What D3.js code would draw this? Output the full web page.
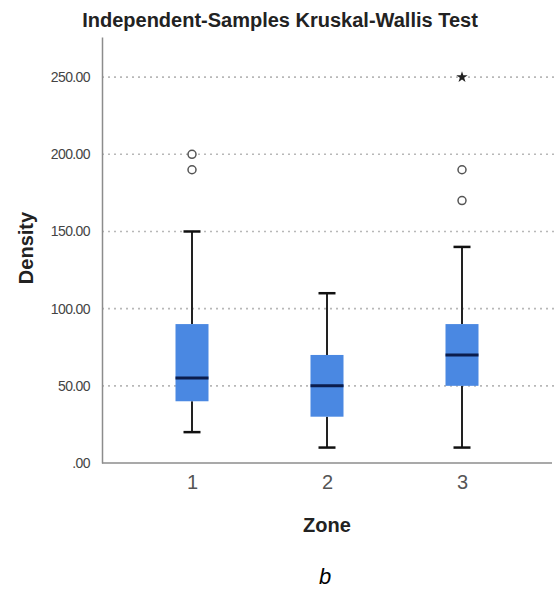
<!DOCTYPE html>
<meta charset="utf-8">
<script src="https://d3js.org/d3.v7.min.js"></script>
<style>
body { margin:0; background:#fff; }
text { font-family:"Liberation Sans", Arial, sans-serif; }
</style>
<body>
</body>
<script>

// data
var zones = ["1", "2", "3"];
var q1 = [40, 30, 50];
var median = [55, 50, 70];
var q3 = [90, 70, 90];
var whiskLow = [20, 10, 10];
var whiskHigh = [150, 110, 140];
var outliers = [[190, 200], [], [170, 190]];
var extremes = [[], [], [250]];
var yTicks = [0, 50, 100, 150, 200, 250];

var margin = {top: 37, right: 2, bottom: 127, left: 102};
var W = 554, H = 590;
var width = W - margin.left - margin.right,
    height = H - margin.top - margin.bottom;

var svg = d3.select('body').append('svg')
  .attr('width', W)
  .attr('height', H);

var g = svg.append('g')
  .attr('transform', 'translate(' + margin.left + ',' + margin.top + ')');

var x = d3.scalePoint().domain(zones).range([90, 360]);
var y = d3.scaleLinear().domain([0, 276]).range([height, 0]);

// grid
g.selectAll('.grid').data(yTicks.slice(1))
  .enter().append('line')
  .attr('class', 'grid')
  .attr('x1', 0).attr('x2', width + 2)
  .attr('y1', function(d){ return y(d); })
  .attr('y2', function(d){ return y(d); })
  .attr('stroke', '#b8b8b8')
  .attr('stroke-width', 1.6)
  .attr('stroke-dasharray', '2,4');

// axes
var yAxis = d3.axisLeft(y).tickValues(yTicks).tickSize(0).tickPadding(12)
  .tickFormat(function(d){ return d === 0 ? '.00' : d.toFixed(2); });
var yg = g.append('g').call(yAxis);
yg.select('.domain').attr('stroke', '#8c8c8c').attr('stroke-width', 1.5);
yg.selectAll('text').attr('font-size', 14).attr('fill', '#444')
  .attr('letter-spacing', -0.6).attr('font-family', '"Liberation Sans", Arial, sans-serif');

var xAxis = d3.axisBottom(x).tickSize(0).tickPadding(12);
var xg = g.append('g').attr('transform', 'translate(0,' + height + ')').call(xAxis);
xg.select('.domain').attr('stroke', '#8c8c8c').attr('stroke-width', 1.5)
  .attr('d', 'M0,0H' + width);
xg.selectAll('text').attr('font-size', 20).attr('fill', '#555')
  .attr('font-family', '"Liberation Sans", Arial, sans-serif');

var boxW = 33, capW = 17;

var box = g.selectAll('.box').data(zones)
  .enter().append('g')
  .attr('class', 'box')
  .attr('transform', function(d){ return 'translate(' + x(d) + ',0)'; });

// whiskers
box.append('line')
  .attr('x1', 0).attr('x2', 0)
  .attr('y1', function(d, i){ return y(whiskHigh[i]); })
  .attr('y2', function(d, i){ return y(q3[i]); })
  .attr('stroke', '#222').attr('stroke-width', 2);
box.append('line')
  .attr('x1', 0).attr('x2', 0)
  .attr('y1', function(d, i){ return y(q1[i]); })
  .attr('y2', function(d, i){ return y(whiskLow[i]); })
  .attr('stroke', '#222').attr('stroke-width', 2);
box.append('line')
  .attr('x1', -capW/2).attr('x2', capW/2)
  .attr('y1', function(d, i){ return y(whiskHigh[i]); })
  .attr('y2', function(d, i){ return y(whiskHigh[i]); })
  .attr('stroke', '#111').attr('stroke-width', 2.5);
box.append('line')
  .attr('x1', -capW/2).attr('x2', capW/2)
  .attr('y1', function(d, i){ return y(whiskLow[i]); })
  .attr('y2', function(d, i){ return y(whiskLow[i]); })
  .attr('stroke', '#111').attr('stroke-width', 2.5);

// boxes
box.append('rect')
  .attr('x', -boxW/2).attr('width', boxW)
  .attr('y', function(d, i){ return y(q3[i]); })
  .attr('height', function(d, i){ return y(q1[i]) - y(q3[i]); })
  .attr('fill', '#4a88e2');

box.append('line')
  .attr('x1', -boxW/2).attr('x2', boxW/2)
  .attr('y1', function(d, i){ return y(median[i]); })
  .attr('y2', function(d, i){ return y(median[i]); })
  .attr('stroke', '#0b1d4d').attr('stroke-width', 3);

// outliers
box.selectAll('.out').data(function(d, i){ return outliers[i]; })
  .enter().append('circle')
  .attr('cx', 0).attr('cy', function(d){ return y(d); })
  .attr('r', 4).attr('fill', '#fff').attr('stroke', '#555').attr('stroke-width', 1.5);

box.selectAll('.ext').data(function(d, i){ return extremes[i]; })
  .enter().append('path')
  .attr('transform', function(d){ return 'translate(0,' + y(d) + ')'; })
  .attr('d', d3.symbol().type(d3.symbolStar).size(40))
  .attr('fill', '#222');

// labels
svg.append('text')
  .attr('x', 280).attr('y', 27)
  .attr('text-anchor', 'middle')
  .attr('font-size', 20).attr('font-weight', 'bold').attr('fill', '#222')
  .text('Independent-Samples Kruskal-Wallis Test');

svg.append('text')
  .attr('transform', 'translate(33,248) rotate(-90)')
  .attr('text-anchor', 'middle')
  .attr('font-size', 20).attr('font-weight', 'bold').attr('fill', '#222')
  .text('Density');

svg.append('text')
  .attr('x', 327).attr('y', 532)
  .attr('text-anchor', 'middle')
  .attr('font-size', 20).attr('font-weight', 'bold').attr('fill', '#222')
  .text('Zone');

svg.append('text')
  .attr('x', 325).attr('y', 584)
  .attr('text-anchor', 'middle')
  .attr('font-size', 22).attr('font-style', 'italic').attr('fill', '#000')
  .text('b');

</script>
